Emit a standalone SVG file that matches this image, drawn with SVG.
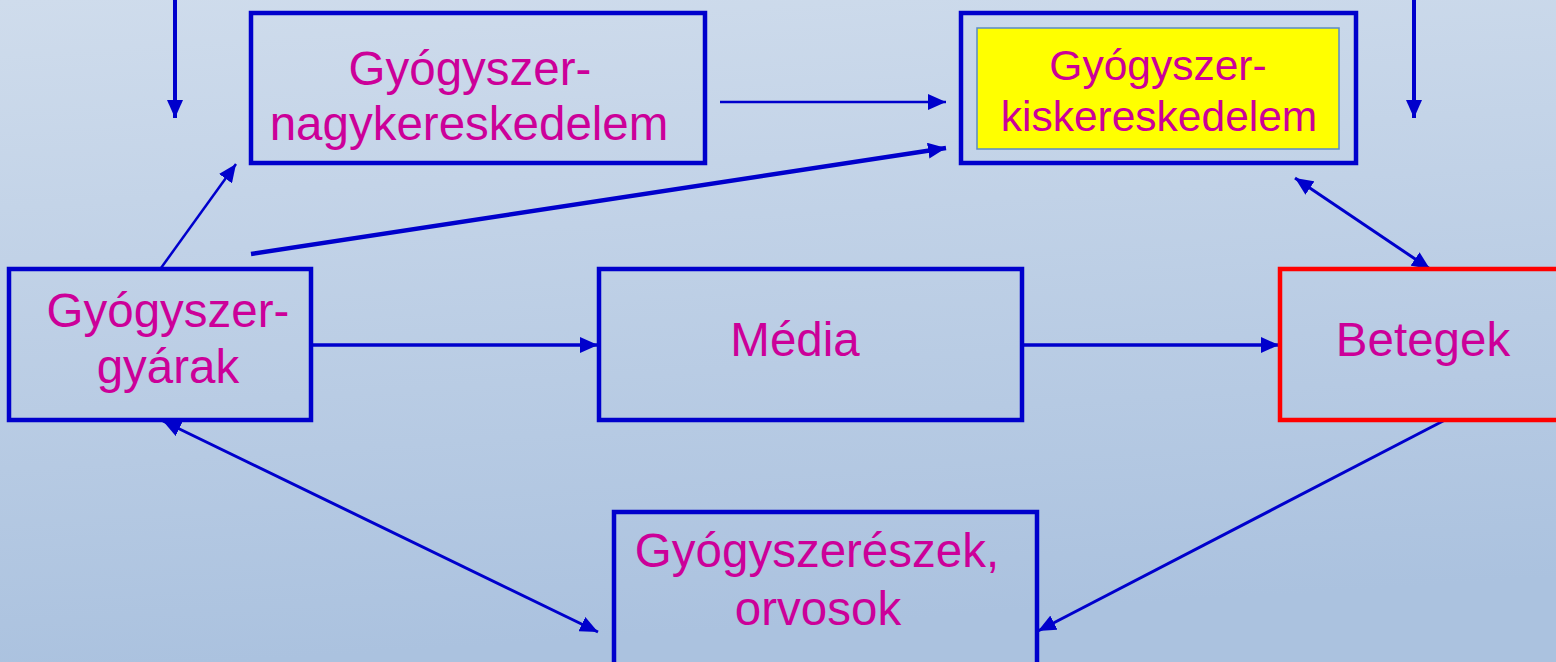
<svg xmlns="http://www.w3.org/2000/svg" width="1556" height="662" viewBox="0 0 1556 662">
<defs>
<linearGradient id="bg" x1="0" y1="0" x2="0.15" y2="1">
<stop offset="0" stop-color="#cfdcec"/>
<stop offset="1" stop-color="#abc2df"/>
</linearGradient>
<marker id="ah" viewBox="0 0 18 16" refX="18" refY="8" markerWidth="18" markerHeight="16" markerUnits="userSpaceOnUse" orient="auto-start-reverse">
<path d="M0,0 L18,8 L0,16 Z" fill="#0000cc"/>
</marker>
</defs>
<style>
.box{fill:none;stroke:#0000cc;stroke-width:4.5}
.lbl{font-family:"Liberation Sans",Arial,sans-serif;fill:#cc0099;text-anchor:middle}
.big{font-size:47.5px}
.small{font-size:42.5px}
.c{stroke:#0000cc;fill:none}
</style>
<rect width="1556" height="662" fill="url(#bg)"/>
<g id="connectors">
<line class="c" x1="175" y1="0" x2="175" y2="118" stroke-width="4" marker-end="url(#ah)"/>
<line class="c" x1="1414" y1="0" x2="1414" y2="118" stroke-width="4" marker-end="url(#ah)"/>
<line class="c" x1="720" y1="102" x2="946" y2="102" stroke-width="2.5" marker-end="url(#ah)"/>
<line class="c" x1="251" y1="254" x2="946" y2="148" stroke-width="4.5" marker-end="url(#ah)"/>
<line class="c" x1="161" y1="268" x2="236" y2="164" stroke-width="2.5" marker-end="url(#ah)"/>
<line class="c" x1="313" y1="345" x2="598" y2="345" stroke-width="3.5" marker-end="url(#ah)"/>
<line class="c" x1="1024" y1="345" x2="1279" y2="345" stroke-width="3.5" marker-end="url(#ah)"/>
<line class="c" x1="1295" y1="178" x2="1430" y2="269" stroke-width="3" marker-start="url(#ah)" marker-end="url(#ah)"/>
<line class="c" x1="163" y1="421" x2="598" y2="632" stroke-width="3" marker-start="url(#ah)" marker-end="url(#ah)"/>
<line class="c" x1="1445" y1="420" x2="1038" y2="631" stroke-width="3" marker-end="url(#ah)"/>
</g>
<g id="nagykereskedelem">
<rect class="box" x="251" y="13" width="454" height="150"/>
<text class="lbl big" x="470" y="85">Gyógyszer-</text>
<text class="lbl big" x="469" y="140">nagykereskedelem</text>
</g>
<g id="kiskereskedelem">
<rect class="box" x="961" y="13" width="395" height="150"/>
<rect x="977" y="28" width="362" height="121" fill="#ffff00" stroke="#5a8ac6" stroke-width="1.5"/>
<text class="lbl small" x="1158" y="80">Gyógyszer-</text>
<text class="lbl small" x="1159" y="131">kiskereskedelem</text>
</g>
<g id="gyarak">
<rect class="box" x="9" y="269" width="302" height="151"/>
<text class="lbl big" x="168" y="327">Gyógyszer-</text>
<text class="lbl big" x="168" y="383">gyárak</text>
</g>
<g id="media">
<rect class="box" x="599" y="269" width="423" height="151"/>
<text class="lbl big" x="795" y="356">Média</text>
</g>
<g id="betegek">
<rect x="1280" y="269" width="285" height="151" fill="none" stroke="#ff0000" stroke-width="4.5"/>
<text class="lbl big" x="1423" y="356">Betegek</text>
</g>
<g id="gyogyszereszek">
<rect class="box" x="614" y="512" width="423" height="160"/>
<text class="lbl big" x="817" y="567">Gyógyszerészek,</text>
<text class="lbl big" x="818" y="625">orvosok</text>
</g>
</svg>
